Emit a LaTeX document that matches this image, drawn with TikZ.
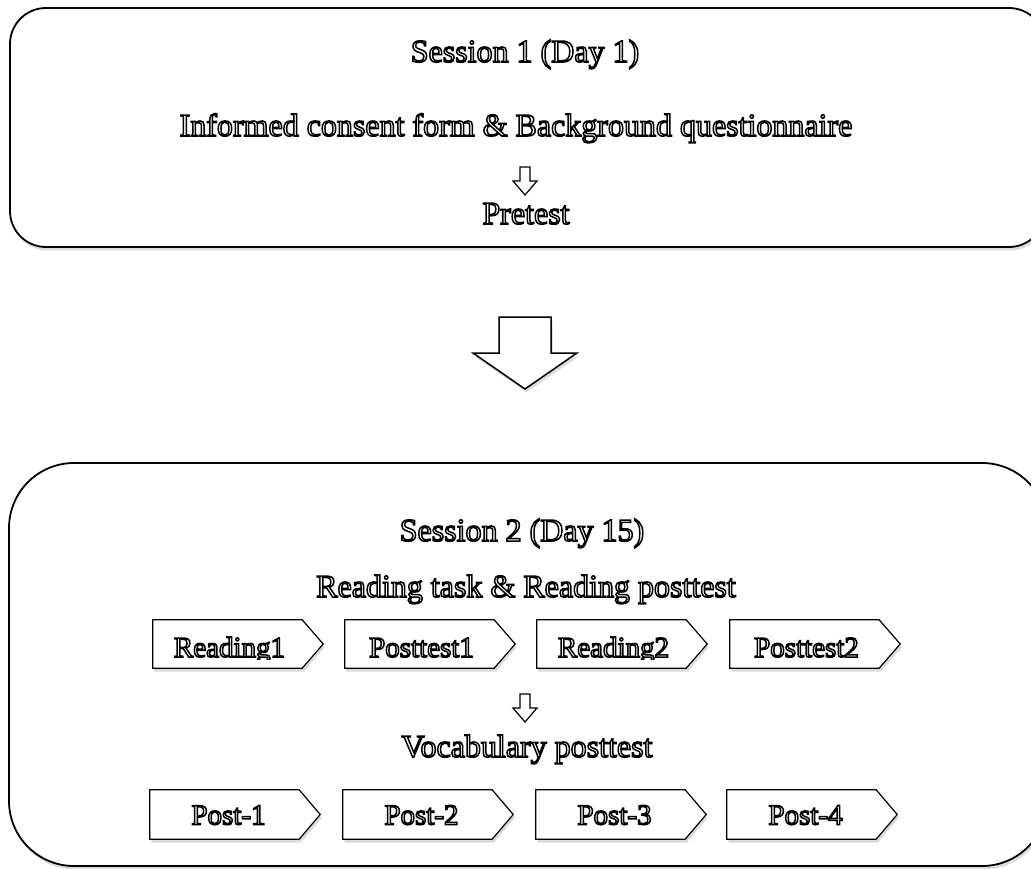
\documentclass[tikz,border=0pt]{standalone}
\usepackage{fontspec}
\setmainfont{Liberation Serif}
\usetikzlibrary{shadows,calc}
\newcommand\olt[1]{\special{pdf:literal direct 2 Tr 1.5 w 1 g 0 G}#1\special{pdf:literal direct 0 Tr 0 g 0 G}}
\tikzset{
  shad/.style={drop shadow={opacity=0.28,shadow xshift=1.5pt,shadow yshift=-3.5pt}},
  panel/.style={draw=black,line width=1.8pt,fill=white,shad},
  body/.style={rectangle,minimum width=149pt,inner sep=0pt},
  pent/.style={draw=black,line width=1.2pt,fill=white,shad},
  head/.style={anchor=base,inner sep=0pt,font=\fontsize{32}{38}\selectfont},
  lab/.style={anchor=base,inner sep=0pt,font=\fontsize{29}{34}\selectfont},
  small/.style={draw=black,line width=1.2pt,fill=white,line join=miter},
  big/.style={draw=black,line width=1.5pt,fill=white,shad,line join=miter}
}
\begin{document}
\begin{tikzpicture}[x=1pt,y=-1pt]
\useasboundingbox (0,0) rectangle (1031,869);
\clip (0,0) rectangle (1031,869);
% panels
\draw[panel,rounded corners=36pt] (10,8) rectangle (1045,247);
\draw[panel,rounded corners=65pt] (9,463) rectangle (1047,866);
% big arrow
\draw[big] (499,317) -- (551,317) -- (551,353) -- (577,353) -- (525,389) -- (473,353) -- (499,353) -- cycle;
% small arrows
\coordinate (sa1) at (525,167);
\coordinate (sa2) at (525,694);
\foreach \s in {sa1,sa2}{
  \draw[small] ($(\s)+(-5,0)$) -- ($(\s)+(5,0)$) -- ($(\s)+(5,14)$) -- ($(\s)+(12,14)$) -- ($(\s)+(0,28)$) -- ($(\s)+(-12,14)$) -- ($(\s)+(-5,14)$) -- cycle;
}
% pentagon bodies row 1
\node[body,minimum height=48pt] (r1) at (227.5,644) {};
\node[body,minimum height=48pt] (p1) at (419.5,644) {};
\node[body,minimum height=48pt] (r2) at (611.5,644) {};
\node[body,minimum height=48pt] (p2) at (804.5,644) {};
% row 2
\node[body,minimum height=49pt] (q1) at (224.5,814.5) {};
\node[body,minimum height=49pt] (q2) at (417.5,814.5) {};
\node[body,minimum height=49pt] (q3) at (610.5,814.5) {};
\node[body,minimum height=49pt] (q4) at (801.5,814.5) {};
\foreach \n in {r1,p1,r2,p2,q1,q2,q3,q4}{
  \draw[pent] (\n.north west) -- (\n.north east) -- ($(\n.east)+(21,0)$) -- (\n.south east) -- (\n.south west) -- cycle;
}
% texts
\node[head] (s1) at (525,62) {\olt{Session 1 (Day 1)}};
\node[head] (ic) at (516,136) {\olt{Informed consent form \& Background questionnaire}};
\node[head] (pt) at (526,224) {\olt{Pretest}};
\node[head] (s2) at (522,541) {\olt{Session 2 (Day 15)}};
\node[head] (rt) at (526,597) {\olt{Reading task \& Reading posttest}};
\node[head] (vp) at (527,757) {\olt{Vocabulary posttest}};
\begin{scope}
\clip (0,0) rectangle (1031,659);
\node[lab] (t1) at ($(r1)+(2,13)$) {\olt{Reading1}};
\node[lab] (t2) at ($(p1)+(2,13)$) {\olt{Posttest1}};
\node[lab] (t3) at ($(r2)+(2,13)$) {\olt{Reading2}};
\node[lab] (t4) at ($(p2)+(2,13)$) {\olt{Posttest2}};
\end{scope}
\node[lab] (u1) at ($(q1)+(4,10)$) {\olt{Post-1}};
\node[lab] (u2) at ($(q2)+(4,10)$) {\olt{Post-2}};
\node[lab] (u3) at ($(q3)+(4,10)$) {\olt{Post-3}};
\node[lab] (u4) at ($(q4)+(4,10)$) {\olt{Post-4}};
\end{tikzpicture}
\end{document}
